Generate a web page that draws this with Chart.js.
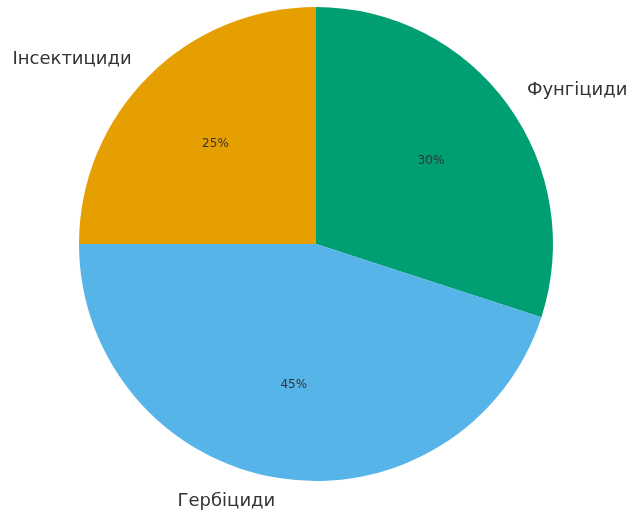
<!DOCTYPE html>
<html>
<head>
<meta charset="utf-8">
<script src="https://cdn.jsdelivr.net/npm/chart.js@4/dist/chart.umd.min.js"></script>
<style>
html,body{margin:0;padding:0;background:#fff;}
#wrap{width:630px;height:513px;position:relative;}
</style>
</head>
<body>
<div id="wrap"><canvas id="c" width="630" height="513"></canvas></div>
<script>
const categories = ['Фунгіциди', 'Гербіциди', 'Інсектициди'];
const values = [30, 45, 25];
const colors = ['#009E73', '#56B4E9', '#E69F00'];

const labelPlugin = {
  id: 'pieLabels',
  afterDatasetsDraw(chart) {
    const ctx = chart.ctx;
    const meta = chart.getDatasetMeta(0);
    const total = values.reduce((a, b) => a + b, 0);
    meta.data.forEach((arc, i) => {
      const p = arc.getProps(['x', 'y', 'startAngle', 'endAngle', 'outerRadius'], true);
      const mid = (p.startAngle + p.endAngle) / 2;
      const cx = Math.cos(mid), cy = Math.sin(mid);
      // outer label
      ctx.save();
      ctx.font = '18px "DejaVu Sans"';
      ctx.fillStyle = '#333333';
      ctx.textBaseline = 'middle';
      ctx.textAlign = cx < 0 ? 'right' : 'left';
      const r1 = p.outerRadius * 1.1;
      ctx.fillText(categories[i], p.x + cx * r1, p.y + cy * r1);
      // percentage
      ctx.font = '12px "DejaVu Sans"';
      ctx.textAlign = 'center';
      ctx.fillStyle = '#333333';
      const r2 = p.outerRadius * 0.6;
      ctx.fillText(Math.round(values[i] / total * 100) + '%', p.x + cx * r2, p.y + cy * r2);
      ctx.restore();
    });
  }
};

new Chart(document.getElementById('c'), {
  type: 'pie',
  data: {
    labels: categories,
    datasets: [{
      data: values,
      backgroundColor: colors,
      borderWidth: 0,
      hoverOffset: 0
    }]
  },
  options: {
    responsive: false,
    animation: false,
    layout: { padding: { left: 79, right: 77, top: 7, bottom: 32 } },
    plugins: { legend: { display: false }, tooltip: { enabled: false } }
  },
  plugins: [labelPlugin]
});
</script>
</body>
</html>
